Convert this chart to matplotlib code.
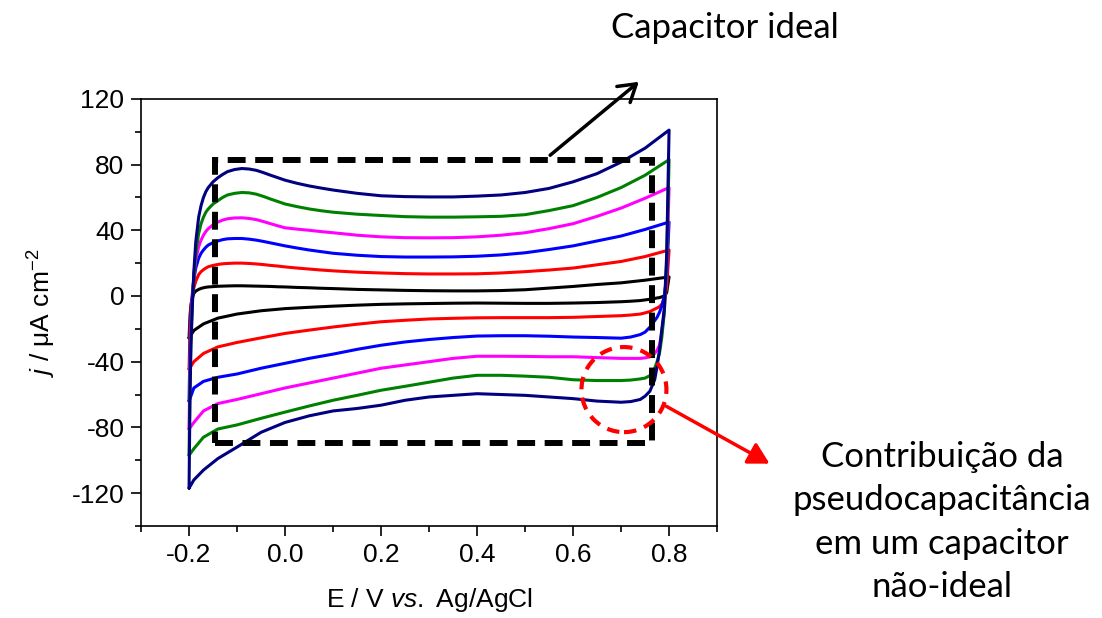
import matplotlib
matplotlib.use("Agg")
import matplotlib.pyplot as plt
from matplotlib.patches import Rectangle, Ellipse, FancyArrowPatch

plt.rcParams["font.family"] = ["Liberation Sans", "DejaVu Sans"]
plt.rcParams["mathtext.fontset"] = "custom"
plt.rcParams["mathtext.rm"] = "Liberation Sans"
plt.rcParams["mathtext.it"] = "Liberation Sans:italic"
plt.rcParams["axes.unicode_minus"] = False

# Potential grids (V vs. Ag/AgCl) for the anodic and cathodic sweeps
E_up = [-0.2, -0.198, -0.196, -0.193, -0.19, -0.186, -0.18, -0.175, -0.17, -0.165,
        -0.16, -0.15, -0.14, -0.13, -0.12, -0.105, -0.09, -0.075, -0.06, -0.045,
        -0.03, -0.015, 0.0, 0.025, 0.05, 0.075, 0.1, 0.15, 0.2, 0.25, 0.3, 0.35,
        0.4, 0.45, 0.5, 0.55, 0.6, 0.65, 0.7, 0.75, 0.8]
E_down = [0.8, 0.795, 0.79, 0.785, 0.78, 0.775, 0.77, 0.76, 0.75, 0.74, 0.72, 0.7,
          0.65, 0.6, 0.55, 0.5, 0.45, 0.4, 0.35, 0.3, 0.25, 0.2, 0.15, 0.1, 0.05,
          0.0, -0.05, -0.1, -0.14, -0.17, -0.19, -0.2]

# Current density (uA cm-2), one voltammogram per scan rate
j_black_up = [-25.6, -12, -5, -1, 1.5, 3, 4, 4.6, 5, 5.3, 5.5, 5.7, 5.9, 6, 6.1,
              6.2, 6.2, 6.1, 6, 5.9, 5.8, 5.6, 5.5, 5.2, 5, 4.7, 4.5, 4, 3.7, 3.4,
              3.2, 3.1, 3.1, 3.3, 3.8, 4.8, 5.8, 7, 8, 9.6, 11.6]
j_black_down = [11.6, 2, 0, -0.5, -1, -1.2, -1.5, -2, -2.4, -2.8, -3.2, -3.5, -4,
                -4.3, -4.5, -4.5, -4.4, -4.3, -4.4, -4.6, -4.8, -5.1, -5.6, -6.2,
                -6.9, -7.7, -9, -11, -13.5, -17, -21, -25.6]

j_red_up = [-44.6, -20, -8, 0, 5, 9, 13, 14.8, 16, 17, 17.8, 18.6, 19.2, 19.6, 19.8,
            20, 20, 19.8, 19.5, 19.1, 18.6, 18.2, 17.7, 17, 16.4, 15.8, 15.3, 14.5,
            14, 13.6, 13.4, 13.4, 13.5, 14, 14.8, 15.8, 17, 19, 21, 24, 28]
j_red_down = [28, 5, -2, -5, -6.5, -7.3, -8, -9.5, -10.3, -11, -11.6, -12, -12.5,
              -13, -13.2, -13.2, -13.2, -13.3, -13.6, -14, -14.8, -15.7, -17.2,
              -18.9, -20.8, -22.8, -25.5, -28.3, -31, -35, -40, -44.6]

j_blue_up = [-64, -30, -12, 2, 10, 17, 23, 26, 28, 29.7, 31, 32.5, 33.5, 34.3, 34.8,
             35, 35, 34.6, 34, 33.2, 32.3, 31.4, 30.5, 29.2, 28, 27, 26, 24.8, 24,
             23.7, 23.7, 23.8, 24.2, 25, 26.3, 28.3, 30.5, 33.5, 36.5, 40.5, 45]
j_blue_down = [45, 12, 0, -6, -10, -13, -15, -19, -22, -23.5, -25, -25.7, -25.3,
               -25, -24.5, -24.2, -24.2, -24.4, -25.3, -26.5, -28, -30, -32.5, -35.4,
               -38, -41, -44, -47.5, -49.5, -52, -56, -64]

j_magenta_up = [-81, -40, -18, 0, 12, 22, 30, 34, 37, 39.3, 41, 43.3, 45, 46.2, 47,
                47.5, 47.6, 47.2, 46.5, 45.3, 44, 42.7, 41.5, 40.7, 40, 39.2, 38.5,
                37, 36, 35.5, 35.4, 35.5, 36, 37, 38.5, 41, 44, 48.5, 53.5, 59.5, 66]
j_magenta_down = [66, 15, -10, -22, -30, -33, -35, -37, -37.7, -38, -38, -38, -37.5,
                  -37, -37, -36.8, -36.7, -36.7, -38, -40, -42, -44, -47, -50, -53,
                  -56, -59.5, -63, -65.5, -70, -77, -81]

j_green_up = [-97, -50, -25, -3, 12, 26, 38, 44, 48, 51, 53, 56, 58, 60, 61.5, 62.5,
              63, 62.8, 62, 60.6, 59, 57.5, 56, 54.4, 53, 51.9, 51, 49.8, 49, 48.3,
              48, 48, 48.2, 48.5, 49.5, 52, 55, 60, 66, 73.5, 83]
j_green_down = [83, 20, -10, -25, -35, -40, -44, -48.5, -50, -50.5, -51.2, -51.5,
                -51.5, -51, -49.5, -48.8, -48.3, -48.3, -50, -52.5, -55, -57.4, -60.5,
                -63.5, -67, -70.7, -74.5, -78.5, -81, -86, -93, -97]

j_navy_up = [-117, -60, -30, -5, 15, 33, 48, 55, 60, 63.5, 66, 69.5, 72, 74, 75.7,
             77, 77.6, 77.3, 76.5, 75.1, 73.5, 72, 70.5, 68.6, 67, 65.7, 64.5, 62.5,
             61, 60.5, 60.3, 60.3, 60.8, 61.5, 63, 65.5, 69.5, 74.5, 81.5, 90, 101]
j_navy_down = [101, 25, -8, -20, -33, -43, -51, -58, -61, -63, -64.3, -64.7, -64,
               -62.5, -61.5, -60.5, -60, -59.5, -60.5, -61.5, -63.5, -66.5, -68.5,
               -70, -73, -77, -83, -92, -99, -106, -112, -117]

curves = [
    (j_black_up, j_black_down, "#000000"),
    (j_red_up, j_red_down, "#ff0000"),
    (j_blue_up, j_blue_down, "#0000ff"),
    (j_magenta_up, j_magenta_down, "#ff00ff"),
    (j_green_up, j_green_down, "#008000"),
    (j_navy_up, j_navy_down, "#000080"),
]

x_ticks = [-0.2, 0.0, 0.2, 0.4, 0.6, 0.8]
y_ticks = [-120, -80, -40, 0, 40, 80, 120]

fig = plt.figure(figsize=(11.02, 6.18), dpi=100)
ax = fig.add_axes([0.128, 0.149, 0.5227, 0.691])

for up, down, col in curves:
    ax.plot(E_up + E_down, up + down, color=col, lw=2.2,
            solid_joinstyle="round", solid_capstyle="round")

ax.set_xlim(-0.3, 0.9)
ax.set_ylim(-140, 120)
ax.set_xticks(x_ticks)
ax.set_xticklabels([f"{v:.1f}" for v in x_ticks])
ax.set_xticks([-0.3, -0.1, 0.1, 0.3, 0.5, 0.7, 0.9], minor=True)
ax.set_yticks(y_ticks)
ax.set_yticklabels([str(v) for v in y_ticks])
ax.set_yticks([-140, -100, -60, -20, 20, 60, 100], minor=True)
ax.tick_params(which="major", length=7, width=1.2, labelsize=19, pad=5, direction="out")
ax.tick_params(which="minor", length=4, width=1.2, direction="out")
for s in ax.spines.values():
    s.set_linewidth(1.2)

ax.set_xlabel(r"E / V $\mathit{vs.}$ Ag/AgCl", fontsize=19, labelpad=14)
ax.set_ylabel(r"$\mathit{j}$ / μA cm$^{-2}$", fontsize=19, labelpad=10)

# Ideal-capacitor window
rect = Rectangle((-0.146, -89.5), 0.911, 172.3, fill=False, ec="black", lw=4.3,
                 ls=(0, (3, 1.6)), joinstyle="miter", clip_on=False, zorder=5)
ax.add_patch(rect)

# Region where the pseudocapacitive hump appears
circ = Ellipse((0.706, -57), 0.177, 51.8, fill=False, ec="#ff0000", lw=3,
               ls=(0, (3, 2)), clip_on=False, zorder=6)
ax.add_patch(circ)

# Arrows in figure pixel coordinates
W, H = 1102, 618
def fp(x, y):
    return (x / W, 1 - y / H)

fig.patches.append(FancyArrowPatch(fp(548, 157), fp(641, 80), transform=fig.transFigure,
                                   arrowstyle="->,head_length=8,head_width=5", lw=2.5,
                                   color="black", mutation_scale=1.5, zorder=7))
fig.patches.append(FancyArrowPatch(fp(664, 405), fp(772, 465), transform=fig.transFigure,
                                   arrowstyle="-|>,head_length=9,head_width=5", lw=2.5,
                                   color="#ff0000", mutation_scale=1.4, zorder=7))

tfont = dict(family=["Lato", "DejaVu Sans"], fontsize=25, color="black")
fig.text(725 / W, 1 - 38 / H, "Capacitor ideal", ha="center", va="baseline", **tfont)
lines = ["Contribuição da", "pseudocapacitância", "em um capacitor", "não-ideal"]
baselines = [467, 510, 554, 597]
for txt, yb in zip(lines, baselines):
    fig.text(942 / W, 1 - yb / H, txt, ha="center", va="baseline", **tfont)

fig.savefig("out.png", dpi=100)
